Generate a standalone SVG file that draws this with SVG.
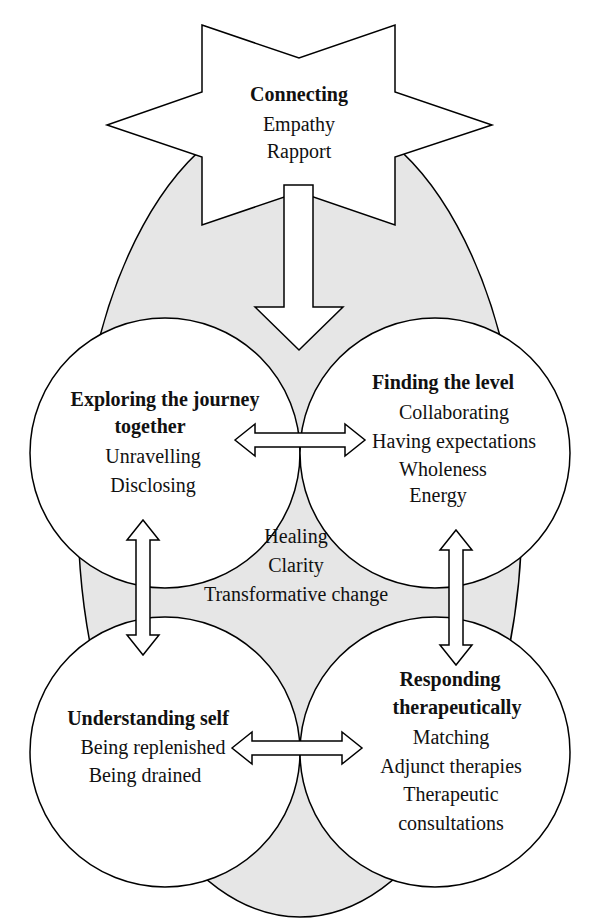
<svg xmlns="http://www.w3.org/2000/svg" width="600" height="921" viewBox="0 0 600 921">
<style>
.s{fill:#fff;stroke:#000;stroke-width:1.5}
text{font-family:"Liberation Serif",serif;font-size:20px;text-anchor:middle;fill:#111}
.b{font-weight:bold}
</style>
<ellipse cx="300" cy="512" rx="222" ry="405" fill="#e6e6e6" stroke="#000" stroke-width="1.5"/>
<g id="connecting">
<polygon class="s" points="202,25 299,58 395,25 395,92 492,125 395,157 395,225 299,192 202,225 202,157 107,125 202,92"/>
<text x="299" y="101" class="b">Connecting</text>
<text x="299" y="131">Empathy</text>
<text x="299" y="158">Rapport</text>
</g>
<g id="explore">
<circle class="s" cx="165" cy="453" r="135"/>
<text x="165" y="406" class="b">Exploring the journey</text>
<text x="150" y="433" class="b">together</text>
<text x="153" y="463">Unravelling</text>
<text x="153" y="492">Disclosing</text>
</g>
<g id="level">
<circle class="s" cx="435" cy="453" r="135"/>
<text x="443" y="389" class="b">Finding the level</text>
<text x="454" y="419">Collaborating</text>
<text x="454" y="448">Having expectations</text>
<text x="443" y="476">Wholeness</text>
<text x="438" y="502">Energy</text>
</g>
<g id="understand">
<circle class="s" cx="165" cy="752" r="135"/>
<text x="148" y="725" class="b">Understanding self</text>
<text x="153" y="754">Being replenished</text>
<text x="145" y="782">Being drained</text>
</g>
<g id="respond">
<circle class="s" cx="435" cy="752" r="135"/>
<text x="450" y="686" class="b">Responding</text>
<text x="457" y="714" class="b">therapeutically</text>
<text x="451" y="744">Matching</text>
<text x="451" y="773">Adjunct therapies</text>
<text x="451" y="801">Therapeutic</text>
<text x="451" y="830">consultations</text>
</g>
<g id="center">
<text x="296" y="543">Healing</text>
<text x="296" y="572">Clarity</text>
<text x="296" y="601">Transformative change</text>
</g>
<g id="connectors">
<polygon class="s" points="284,185 313,185 313,307 343,307 299,350 255,307 284,307"/>
<polygon class="s" points="235,440 255,424 255,433 345,433 345,424 365,440 345,456 345,447 255,447 255,456"/>
<polygon class="s" points="232,748 252,732 252,741 342,741 342,732 362,748 342,764 342,755 252,755 252,764"/>
<polygon class="s" points="143,520 159,540 150,540 150,635 159,635 143,655 127,635 136,635 136,540 127,540"/>
<polygon class="s" points="456,530 472,550 463,550 463,645 472,645 456,665 440,645 449,645 449,550 440,550"/>
</g>
</svg>
